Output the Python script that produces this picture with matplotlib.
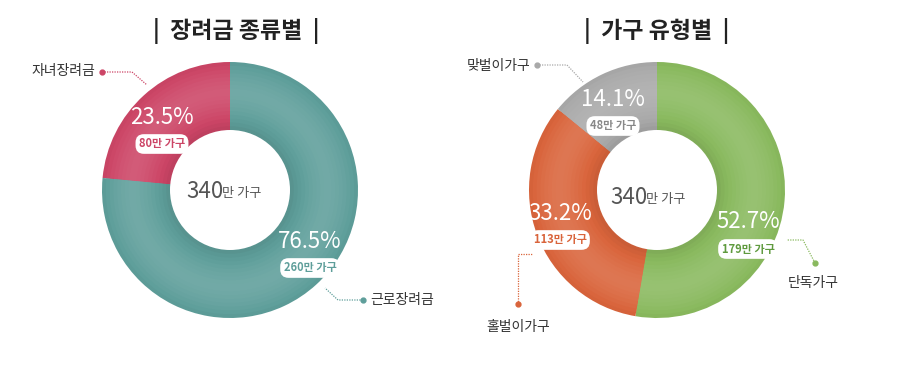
"""
Draw the two EITC donut charts (by credit type and by household type).
"""
import matplotlib
matplotlib.use("Agg")
import matplotlib.pyplot as plt
from matplotlib.colors import to_rgb
from matplotlib.patches import Circle

plt.rcParams['font.family'] = ['Noto Sans CJK KR', 'DejaVu Sans']

# Data
TOTAL_HOUSEHOLDS = 340
CREDIT_TITLE = "|  장려금 종류별  |"
CREDIT_LABELS = ["자녀장려금", "근로장려금"]
CREDIT_SHARE = [23.5, 76.5]
CREDIT_HOUSEHOLDS = [80, 260]
CREDIT_COLORS = ["#cc4566", "#5e9e9a"]

TYPE_TITLE = "|  가구 유형별  |"
TYPE_LABELS = ["단독가구", "홀벌이가구", "맞벌이가구"]
TYPE_SHARE = [52.7, 33.2, 14.1]
TYPE_HOUSEHOLDS = [179, 113, 48]
TYPE_COLORS = ["#89b95e", "#d9643b", "#a9a9a9"]

H = 371  # figure height in px, used to flip y
R_OUT, R_IN = 128, 60


def px(x, y):
    """Pixel position (y down) -> axes data position (y up)."""
    return x, H - y


def shade(color, k):
    """Lighten (k>0) or darken (k<0) a colour."""
    r, g, b = to_rgb(color)
    if k >= 0:
        return (r + (1 - r) * k, g + (1 - g) * k, b + (1 - b) * k)
    return (r * (1 + k), g * (1 + k), b * (1 + k))


def draw_donut(ax, center, values, colors, counterclock):
    """
    Draw one donut with the library's pie: stacked full pies of shrinking
    radius give a soft radial shading, then a white hole on top.
    """
    steps = 18
    band = (R_OUT - R_IN) / steps
    for i in range(steps):
        r = R_OUT - i * band
        t = (i + 0.5) / steps          # 0 outer .. 1 inner
        k = 0.12 - 0.5 * abs(t - 0.45) ** 1.5
        cols = [shade(c, k) for c in colors]
        ax.pie(values, colors=cols, startangle=90, counterclock=counterclock,
               center=px(*center), radius=r,
               wedgeprops=dict(edgecolor='none', linewidth=0))
    ax.add_patch(Circle(px(*center), R_IN, fc="white", ec="none", zorder=3))


def draw_share_label(ax, pos, share, households, color):
    """Percentage in white plus a small rounded badge below it."""
    x, y = pos
    ax.text(*px(x, y), f"{share}%", color="white", fontsize=16,
            ha="center", va="center", zorder=5)
    ax.text(*px(x, y + 27), f"{households}만 가구",
            color=color, fontsize=8, fontweight="bold", ha="center",
            va="center", zorder=5,
            bbox=dict(boxstyle="round,pad=0.3,rounding_size=0.75",
                      fc="white", ec="none"))


def draw_callout(ax, points, color):
    """Dotted leader line ending in a dot (first point is the dot)."""
    xs = [p[0] for p in points]
    ys = [H - p[1] for p in points]
    ax.plot(xs, ys, color=color, lw=0.9, ls=(0, (1, 1)), zorder=4)
    ax.plot(xs[0], ys[0], "o", color=color, ms=3.5, zorder=4)


def draw_center(ax, pos):
    x, y = pos
    ax.text(*px(x, y), f"{TOTAL_HOUSEHOLDS}", color="#555555",
            fontsize=16, ha="right", va="center", zorder=5)
    ax.text(*px(x - 2, y + 2), "만 가구", color="#555555", fontsize=9.5,
            ha="left", va="center", zorder=5)


if __name__ == "__main__":
    fig = plt.figure(figsize=(8.99, 3.71), dpi=100)
    ax = fig.add_axes([0, 0, 1, 1])

    left_c = (230, 190)
    right_c = (657, 190)

    draw_donut(ax, left_c, CREDIT_SHARE, CREDIT_COLORS, True)
    draw_donut(ax, right_c, TYPE_SHARE, TYPE_COLORS, False)

    ax.set_xlim(0, 899)
    ax.set_ylim(0, H)
    ax.set_aspect("equal")
    ax.axis("off")

    # titles
    ax.text(*px(236, 31), CREDIT_TITLE, fontsize=16.5, fontweight="bold",
            color="#222222", ha="center", va="center")
    ax.text(*px(657, 31), TYPE_TITLE, fontsize=16.5, fontweight="bold",
            color="#222222", ha="center", va="center")

    # centre totals
    draw_center(ax, (224, 192))
    draw_center(ax, (648, 198))

    # left donut labels
    draw_share_label(ax, (162, 117), CREDIT_SHARE[0], CREDIT_HOUSEHOLDS[0],
                     CREDIT_COLORS[0])
    draw_share_label(ax, (310, 241), CREDIT_SHARE[1], CREDIT_HOUSEHOLDS[1],
                     CREDIT_COLORS[1])
    # right donut labels
    draw_share_label(ax, (748, 222), TYPE_SHARE[0], TYPE_HOUSEHOLDS[0],
                     "#5f9a3e")
    draw_share_label(ax, (560, 213), TYPE_SHARE[1], TYPE_HOUSEHOLDS[1],
                     TYPE_COLORS[1])
    draw_share_label(ax, (613, 99), TYPE_SHARE[2], TYPE_HOUSEHOLDS[2],
                     "#888888")

    # callouts
    draw_callout(ax, [(102, 72), (132, 72), (147, 85)], CREDIT_COLORS[0])
    ax.text(*px(95, 71), CREDIT_LABELS[0], fontsize=10, color="#333333",
            ha="right", va="center")
    draw_callout(ax, [(363, 300), (338, 300), (325, 288)], CREDIT_COLORS[1])
    ax.text(*px(370, 300), CREDIT_LABELS[1], fontsize=10, color="#333333",
            ha="left", va="center")

    draw_callout(ax, [(815, 263), (803, 240), (787, 240)], TYPE_COLORS[0])
    ax.text(*px(813, 283), TYPE_LABELS[0], fontsize=10, color="#333333",
            ha="center", va="center")
    draw_callout(ax, [(518, 304), (518, 254), (532, 254)], TYPE_COLORS[1])
    ax.text(*px(518, 327), TYPE_LABELS[1], fontsize=10, color="#333333",
            ha="center", va="center")
    draw_callout(ax, [(537, 65), (567, 65), (583, 82)], TYPE_COLORS[2])
    ax.text(*px(530, 66), TYPE_LABELS[2], fontsize=10, color="#333333",
            ha="right", va="center")

    fig.savefig("out.png", dpi=100)
